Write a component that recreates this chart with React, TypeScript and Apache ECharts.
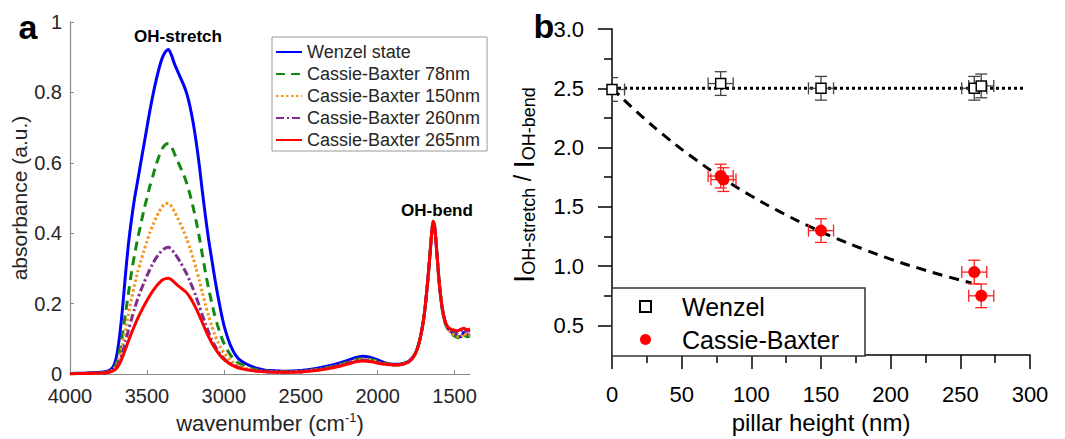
import React, { useEffect, useRef } from 'react';
import * as echarts from 'echarts';

const FONT = '"Liberation Sans", Arial, Helvetica, sans-serif';

// ---------- Panel a: IR spectra ----------
const wavenumbers = [
  4000, 3900, 3800, 3760, 3740, 3720, 3700, 3680, 3660, 3640,
  3620, 3600, 3580, 3560, 3540, 3520, 3500, 3480, 3460, 3440,
  3420, 3400, 3380, 3360, 3340, 3320, 3300, 3280, 3260, 3240,
  3220, 3200, 3180, 3160, 3140, 3120, 3100, 3080, 3060, 3040,
  3020, 3000, 2980, 2960, 2940, 2920, 2900, 2860, 2820, 2780,
  2740, 2700, 2600, 2500, 2400, 2300, 2200, 2150, 2100, 2050,
  2000, 1950, 1900, 1850, 1800, 1760, 1730, 1700, 1680, 1660,
  1650, 1640, 1630, 1620, 1600, 1580, 1560, 1540, 1520, 1500,
  1480, 1460, 1440, 1420, 1400,
];

const wenzelState = [
  0.002, 0.003, 0.005, 0.008, 0.012, 0.02, 0.045, 0.10, 0.18, 0.28,
  0.37, 0.44, 0.50, 0.55, 0.60, 0.65, 0.70, 0.75, 0.795, 0.835,
  0.87, 0.898, 0.915, 0.922, 0.905, 0.88, 0.86, 0.84, 0.82, 0.795,
  0.76, 0.715, 0.66, 0.595, 0.52, 0.45, 0.385, 0.33, 0.275, 0.225,
  0.18, 0.14, 0.11, 0.085, 0.066, 0.052, 0.042, 0.03, 0.022, 0.016,
  0.012, 0.01, 0.008, 0.01, 0.016, 0.025, 0.038, 0.046, 0.051, 0.048,
  0.04, 0.032, 0.028, 0.029, 0.036, 0.055, 0.09, 0.16, 0.24, 0.34,
  0.395, 0.432, 0.42, 0.37, 0.26, 0.185, 0.145, 0.128, 0.12, 0.112,
  0.108, 0.106, 0.118, 0.11, 0.114,
];

const cassie78 = [
  0.001, 0.002, 0.004, 0.006, 0.009, 0.014, 0.028, 0.06, 0.11, 0.17,
  0.23, 0.29, 0.34, 0.385, 0.425, 0.465, 0.50, 0.535, 0.565, 0.595,
  0.62, 0.64, 0.652, 0.655, 0.645, 0.625, 0.605, 0.585, 0.565, 0.54,
  0.51, 0.475, 0.435, 0.39, 0.34, 0.29, 0.245, 0.205, 0.168, 0.137,
  0.11, 0.088, 0.07, 0.056, 0.045, 0.036, 0.03, 0.022, 0.016, 0.012,
  0.009, 0.008, 0.006, 0.008, 0.013, 0.021, 0.033, 0.04, 0.044, 0.042,
  0.036, 0.03, 0.027, 0.028, 0.035, 0.054, 0.09, 0.16, 0.24, 0.34,
  0.395, 0.432, 0.42, 0.37, 0.26, 0.183, 0.142, 0.124, 0.116, 0.108,
  0.104, 0.103, 0.112, 0.106, 0.108,
];

const cassie150 = [
  0.001, 0.002, 0.003, 0.005, 0.008, 0.012, 0.022, 0.045, 0.08, 0.125,
  0.17, 0.215, 0.255, 0.29, 0.32, 0.35, 0.377, 0.403, 0.425, 0.445,
  0.462, 0.476, 0.484, 0.485, 0.476, 0.46, 0.443, 0.425, 0.405, 0.383,
  0.358, 0.33, 0.30, 0.267, 0.232, 0.198, 0.166, 0.138, 0.113, 0.092,
  0.075, 0.061, 0.05, 0.041, 0.034, 0.028, 0.023, 0.017, 0.013, 0.01,
  0.008, 0.007, 0.006, 0.008, 0.012, 0.02, 0.031, 0.038, 0.042, 0.04,
  0.034, 0.029, 0.026, 0.027, 0.034, 0.054, 0.09, 0.16, 0.24, 0.34,
  0.395, 0.432, 0.42, 0.37, 0.26, 0.184, 0.143, 0.125, 0.117, 0.11,
  0.107, 0.105, 0.116, 0.109, 0.112,
];

const cassie260 = [
  0.001, 0.002, 0.003, 0.004, 0.007, 0.01, 0.018, 0.035, 0.06, 0.092,
  0.125, 0.157, 0.187, 0.213, 0.237, 0.259, 0.279, 0.298, 0.315, 0.33,
  0.342, 0.352, 0.358, 0.36, 0.354, 0.343, 0.33, 0.316, 0.30, 0.283,
  0.263, 0.242, 0.219, 0.194, 0.168, 0.143, 0.12, 0.10, 0.082, 0.067,
  0.055, 0.045, 0.037, 0.031, 0.026, 0.022, 0.018, 0.014, 0.011, 0.009,
  0.007, 0.006, 0.005, 0.007, 0.011, 0.019, 0.03, 0.036, 0.04, 0.038,
  0.033, 0.028, 0.026, 0.027, 0.034, 0.054, 0.09, 0.16, 0.24, 0.34,
  0.395, 0.432, 0.42, 0.37, 0.26, 0.186, 0.146, 0.13, 0.124, 0.12,
  0.118, 0.122, 0.128, 0.122, 0.125,
];

const cassie265 = [
  0.001, 0.002, 0.003, 0.004, 0.006, 0.009, 0.015, 0.028, 0.047, 0.07,
  0.094, 0.117, 0.138, 0.158, 0.176, 0.193, 0.209, 0.224, 0.237, 0.249,
  0.259, 0.267, 0.271, 0.272, 0.268, 0.26, 0.252, 0.245, 0.238, 0.23,
  0.218, 0.203, 0.186, 0.167, 0.147, 0.126, 0.107, 0.09, 0.075, 0.062,
  0.051, 0.042, 0.035, 0.029, 0.024, 0.02, 0.017, 0.013, 0.01, 0.008,
  0.007, 0.006, 0.005, 0.006, 0.01, 0.017, 0.028, 0.034, 0.037, 0.036,
  0.031, 0.028, 0.026, 0.027, 0.034, 0.054, 0.09, 0.16, 0.24, 0.34,
  0.395, 0.435, 0.42, 0.37, 0.26, 0.187, 0.148, 0.132, 0.127, 0.125,
  0.123, 0.127, 0.13, 0.126, 0.128,
];

const spectraNames = [
  'Wenzel state',
  'Cassie-Baxter 78nm',
  'Cassie-Baxter 150nm',
  'Cassie-Baxter 260nm',
  'Cassie-Baxter 265nm',
];
const spectraValues = [wenzelState, cassie78, cassie150, cassie260, cassie265];
const wavenumberTicks = [4000, 3500, 3000, 2500, 2000, 1500];

// ---------- Panel b: intensity ratio ----------
const wenzelHeights = [0, 78, 150, 260, 265];
const wenzelRatio = [2.49, 2.54, 2.5, 2.5, 2.52];
const wenzelHeightErr = [9, 9, 9, 9, 9];
const wenzelRatioErr = [0.1, 0.1, 0.1, 0.1, 0.1];

const cassieHeights = [78, 80, 150, 260, 265];
const cassieRatio = [1.76, 1.73, 1.3, 0.95, 0.75];
const cassieHeightErr = [9, 9, 9, 9, 9];
const cassieRatioErr = [0.1, 0.1, 0.1, 0.1, 0.1];

const fitHeights = [0, 20, 40, 60, 80, 100, 120, 140, 160, 180, 200, 220, 240, 258];
const fitRatios = [2.5, 2.278, 2.078, 1.899, 1.737, 1.592, 1.462, 1.345, 1.239, 1.145, 1.059, 0.983, 0.914, 0.858];

const wenzelLevelHeights = [0, 296];
const wenzelLevelRatio = [2.5, 2.5];

const ratioMajorTicks = [0.5, 1.0, 1.5, 2.0, 2.5, 3.0];
const ratioMinorTicks = [0.75, 1.25, 1.75, 2.25, 2.75];

const spectraColors = ['#0000ff', '#128a12', '#f7941d', '#7e2f8e', '#ff0000'];
const spectraDash: any[] = ['solid', [9, 6], [2.5, 2.5], [8, 3, 2, 3], 'solid'];

function errorRender(color: string) {
  return (params: any, api: any) => {
    const x = api.value(0);
    const y = api.value(1);
    const ex = api.value(2);
    const ey = api.value(3);
    const top = api.coord([x, y + ey]);
    const bot = api.coord([x, y - ey]);
    const lft = api.coord([x - ex, y]);
    const rgt = api.coord([x + ex, y]);
    const cap = 6;
    const style = { stroke: color, lineWidth: 1.3, fill: 'none' };
    const ln = (x1: number, y1: number, x2: number, y2: number) => ({
      type: 'line',
      shape: { x1, y1, x2, y2 },
      style,
    });
    return {
      type: 'group',
      children: [
        ln(top[0], top[1], bot[0], bot[1]),
        ln(top[0] - cap, top[1], top[0] + cap, top[1]),
        ln(bot[0] - cap, bot[1], bot[0] + cap, bot[1]),
        ln(lft[0], lft[1], rgt[0], rgt[1]),
        ln(lft[0], lft[1] - cap, lft[0], lft[1] + cap),
        ln(rgt[0], rgt[1] - cap, rgt[0], rgt[1] + cap),
      ],
    };
  };
}

export default function App() {
  const ref = useRef<HTMLDivElement>(null);

  useEffect(() => {
    document.body.style.margin = '0';
    if (!ref.current) return;
    const chart = echarts.init(ref.current, undefined, { renderer: 'svg' });

    const spectraSeries = spectraNames.map((name, i) => ({
      name,
      type: 'line',
      xAxisIndex: 0,
      yAxisIndex: 0,
      data: wavenumbers.map((w, k) => [w, spectraValues[i][k]]),
      symbol: 'none',
      smooth: 0.25,
      lineStyle: { color: spectraColors[i], width: 3, type: spectraDash[i] },
      itemStyle: { color: spectraColors[i] },
      z: 2 + i,
    }));

    const option: any = {
      animation: false,
      tooltip: { show: false },
      grid: [
        { left: 70, top: 22, width: 400, height: 358 },
        { left: 612, top: 29, width: 418, height: 333 },
      ],
      xAxis: [
        {
          gridIndex: 0,
          type: 'value',
          inverse: true,
          min: 1400,
          max: 4000,
          axisLine: { lineStyle: { color: '#888', width: 1.2 } },
          axisTick: { inside: true, length: 4, customValues: wavenumberTicks, lineStyle: { color: '#888' } },
          axisLabel: {
            customValues: wavenumberTicks,
            color: '#262626',
            fontSize: 20,
            fontFamily: FONT,
            margin: 12,
            formatter: (v: number) => String(v),
          },
          splitLine: { show: false },
          name: '{t|wavenumber (cm}{s|-1}{t|)}',
          nameLocation: 'middle',
          nameGap: 33,
          nameTextStyle: {
            rich: {
              t: { fontSize: 22, fontFamily: FONT, color: '#262626', lineHeight: 24 },
              s: { fontSize: 13, fontFamily: FONT, color: '#262626', lineHeight: 12, verticalAlign: 'top' },
            },
          },
        },
        {
          gridIndex: 1,
          type: 'value',
          min: 0,
          max: 300,
          interval: 50,
          axisLine: { lineStyle: { color: '#000', width: 1.5 } },
          axisTick: { inside: false, length: 14, lineStyle: { color: '#000', width: 1.5 } },
          minorTick: { show: true, splitNumber: 2, length: 8, lineStyle: { color: '#000', width: 1.5 } },
          axisLabel: { color: '#000', fontSize: 22, fontFamily: FONT, margin: 28 },
          splitLine: { show: false },
          minorSplitLine: { show: false },
          name: 'pillar height (nm)',
          nameLocation: 'middle',
          nameGap: 51,
          nameTextStyle: { fontSize: 24, fontFamily: FONT, color: '#000' },
        },
      ],
      yAxis: [
        {
          gridIndex: 0,
          type: 'value',
          min: 0,
          max: 1,
          interval: 0.2,
          axisLine: { show: true, lineStyle: { color: '#888', width: 1.2 } },
          axisTick: { show: true, inside: true, length: 4, lineStyle: { color: '#888' } },
          axisLabel: { color: '#262626', fontSize: 20, fontFamily: FONT, margin: 8 },
          splitLine: { show: false },
          name: 'absorbance (a.u.)',
          nameLocation: 'middle',
          nameGap: 33,
          nameTextStyle: { fontSize: 21, fontFamily: FONT, color: '#262626' },
        },
        {
          gridIndex: 1,
          type: 'value',
          position: 'left',
          min: 0.25,
          max: 3,
          axisLine: { show: true, lineStyle: { color: '#000', width: 1.5 } },
          axisTick: { show: true, length: 14, customValues: ratioMajorTicks, lineStyle: { color: '#000', width: 1.5 } },
          axisLabel: {
            customValues: ratioMajorTicks,
            color: '#000',
            fontSize: 22,
            fontFamily: FONT,
            margin: 28,
            formatter: (v: number) => v.toFixed(1),
          },
          splitLine: { show: false },
          name: '{I|I}{s|OH-stretch}{m| / }{I|I}{s|OH-bend}',
          nameLocation: 'middle',
          nameGap: 74,
          nameTextStyle: {
            padding: [0, 0, 0, 14],
            rich: {
              I: { fontSize: 30, fontFamily: FONT, color: '#000', lineHeight: 30 },
              s: { fontSize: 18, fontFamily: FONT, color: '#000', lineHeight: 14, verticalAlign: 'bottom' },
              m: { fontSize: 23, fontFamily: FONT, color: '#000', lineHeight: 30 },
            },
          },
        },
        {
          gridIndex: 1,
          type: 'value',
          position: 'left',
          offset: 0,
          min: 0.25,
          max: 3,
          axisLine: { show: false },
          axisTick: { show: true, length: 8, customValues: ratioMinorTicks, lineStyle: { color: '#000', width: 1.5 } },
          axisLabel: { show: false },
          splitLine: { show: false },
        },
      ],
      legend: [
        {
          data: spectraNames,
          orient: 'vertical',
          left: 272,
          top: 37,
          itemWidth: 26,
          itemHeight: 12,
          itemGap: 4,
          padding: [6, 7, 2, 3],
          borderColor: '#999',
          borderWidth: 1,
          backgroundColor: '#fff',
          selectedMode: false,
          itemStyle: { opacity: 0 },
          textStyle: { fontSize: 18, lineHeight: 18, fontFamily: FONT, color: '#262626' },
        },
        {
          data: [
            { name: 'Wenzel', icon: 'rect' },
            { name: 'Cassie-Baxter', icon: 'circle' },
          ],
          orient: 'vertical',
          left: 612,
          top: 288,
          itemWidth: 11,
          itemHeight: 11,
          itemGap: 8,
          padding: [6, 26, 4, 27],
          borderColor: '#333',
          borderWidth: 1.5,
          backgroundColor: '#fff',
          selectedMode: false,
          textStyle: { fontSize: 25, lineHeight: 25, fontFamily: FONT, color: '#000', padding: [0, 0, 0, 26] },
        },
      ],
      graphic: [
        { type: 'text', x: 28, y: 27, style: { text: 'a', fontSize: 34, fontWeight: 'bold', fontFamily: FONT, fill: '#000', align: 'center', verticalAlign: 'middle' } },
        { type: 'text', x: 544, y: 26, style: { text: 'b', fontSize: 34, fontWeight: 'bold', fontFamily: FONT, fill: '#000', align: 'center', verticalAlign: 'middle' } },
        { type: 'text', x: 178, y: 36, style: { text: 'OH-stretch', fontSize: 17, fontWeight: 'bold', fontFamily: FONT, fill: '#000', align: 'center', verticalAlign: 'middle' } },
        { type: 'text', x: 437, y: 210, style: { text: 'OH-bend', fontSize: 17, fontWeight: 'bold', fontFamily: FONT, fill: '#000', align: 'center', verticalAlign: 'middle' } },
      ],
      series: [
        ...spectraSeries,
        {
          name: 'wenzelLevel',
          type: 'line',
          xAxisIndex: 1,
          yAxisIndex: 1,
          data: wenzelLevelHeights.map((h, k) => [h, wenzelLevelRatio[k]]),
          symbol: 'none',
          lineStyle: { color: '#000', width: 3, type: [3, 3] },
          z: 2,
        },
        {
          name: 'cassieFit',
          type: 'line',
          xAxisIndex: 1,
          yAxisIndex: 1,
          data: fitHeights.map((h, k) => [h, fitRatios[k]]),
          symbol: 'none',
          smooth: true,
          lineStyle: { color: '#000', width: 3, type: [10, 7] },
          z: 2,
        },
        {
          name: 'wenzelErr',
          type: 'custom',
          xAxisIndex: 1,
          yAxisIndex: 1,
          clip: true,
          silent: true,
          renderItem: errorRender('#444'),
          encode: { x: 0, y: 1 },
          data: wenzelHeights.map((h, k) => [h, wenzelRatio[k], wenzelHeightErr[k], wenzelRatioErr[k]]),
          z: 3,
        },
        {
          name: 'cassieErr',
          type: 'custom',
          xAxisIndex: 1,
          yAxisIndex: 1,
          clip: true,
          silent: true,
          renderItem: errorRender('#ff2020'),
          encode: { x: 0, y: 1 },
          data: cassieHeights.map((h, k) => [h, cassieRatio[k], cassieHeightErr[k], cassieRatioErr[k]]),
          z: 3,
        },
        {
          name: 'Wenzel',
          type: 'scatter',
          xAxisIndex: 1,
          yAxisIndex: 1,
          symbol: 'rect',
          symbolSize: 10,
          itemStyle: { color: '#fff', borderColor: '#000', borderWidth: 1.5, opacity: 1 },
          data: wenzelHeights.map((h, k) => [h, wenzelRatio[k]]),
          clip: false,
          z: 4,
        },
        {
          name: 'Cassie-Baxter',
          type: 'scatter',
          xAxisIndex: 1,
          yAxisIndex: 1,
          symbol: 'circle',
          symbolSize: 12,
          itemStyle: { color: '#ff0000', opacity: 1 },
          data: cassieHeights.map((h, k) => [h, cassieRatio[k]]),
          z: 4,
        },
      ],
    };

    chart.setOption(option);
    return () => chart.dispose();
  }, []);

  return <div ref={ref} style={{ width: 1065, height: 439 }} />;
}
